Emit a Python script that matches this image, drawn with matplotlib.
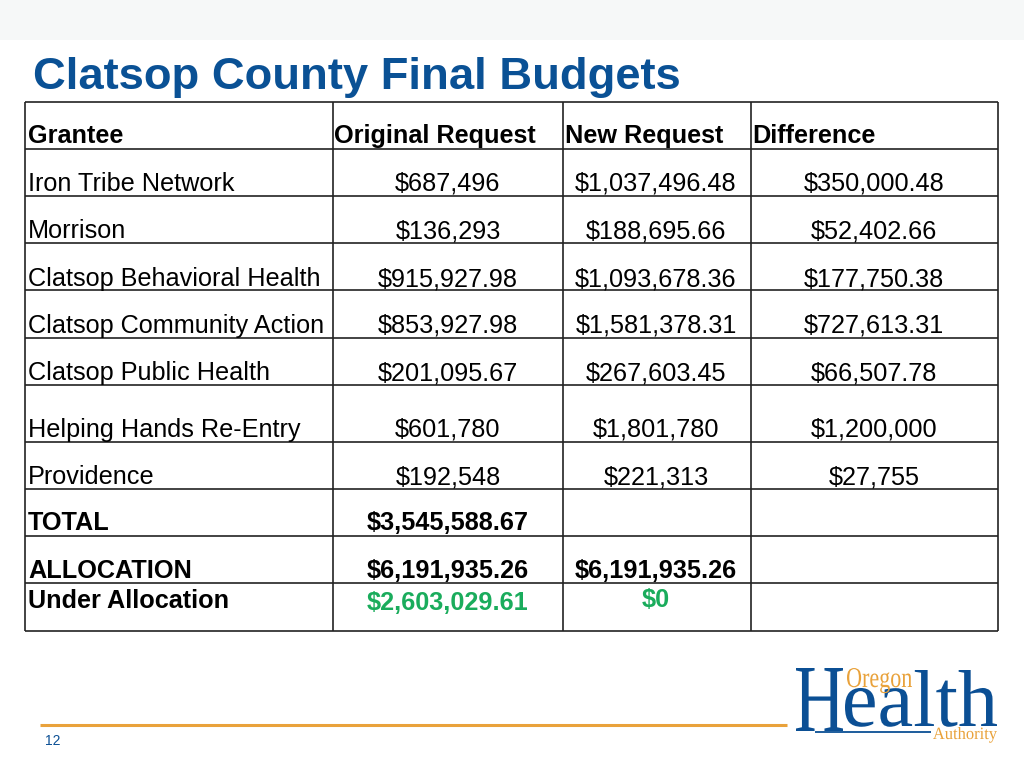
import matplotlib
matplotlib.use("Agg")
import matplotlib.pyplot as plt
from matplotlib.patches import Rectangle, PathPatch
from matplotlib.textpath import TextPath
from matplotlib.font_manager import FontProperties
from matplotlib.transforms import Affine2D

# ---- data ----
title = "Clatsop County Final Budgets"
headers = ["Grantee", "Original Request", "New Request", "Difference"]
grantees = ["Iron Tribe Network", "Morrison", "Clatsop Behavioral Health",
            "Clatsop Community Action", "Clatsop Public Health",
            "Helping Hands Re-Entry", "Providence"]
original = ["$687,496", "$136,293", "$915,927.98", "$853,927.98",
            "$201,095.67", "$601,780", "$192,548"]
new_req = ["$1,037,496.48", "$188,695.66", "$1,093,678.36", "$1,581,378.31",
           "$267,603.45", "$1,801,780", "$221,313"]
difference = ["$350,000.48", "$52,402.66", "$177,750.38", "$727,613.31",
              "$66,507.78", "$1,200,000", "$27,755"]
total_label, total_value = "TOTAL", "$3,545,588.67"
alloc_label, alloc_orig, alloc_new = "ALLOCATION", "$6,191,935.26", "$6,191,935.26"
under_label, under_orig, under_new = "Under Allocation", "$2,603,029.61", "$0"
page_number = "12"

# ---- layout ----
W, H = 1024, 768
fig = plt.figure(figsize=(W / 100, H / 100), dpi=100)
ax = fig.add_axes([0, 0, 1, 1])
ax.set_xlim(0, W)
ax.set_ylim(H, 0)
ax.axis("off")

BLUE = "#0b4f94"
TITLE_BLUE = "#0a5195"
ORANGE = "#e9a23b"
GREEN = "#1aac5c"
FONT = "Liberation Sans"

# top band
ax.add_patch(Rectangle((0, 0), W, 40, color="#f6f8f8", lw=0))

ax.text(33, 89, title, fontsize=32.7, fontweight="bold", color=TITLE_BLUE,
        family=FONT, ha="left", va="baseline")

col_x = [25, 333, 563, 751, 998]
row_y = [102, 149, 196, 243, 290, 338, 385, 442, 489, 536, 583, 631]

lw = 1.2
for x in col_x:
    ax.plot([x, x], [row_y[0], row_y[-1]], color="#222222", lw=lw, solid_capstyle="butt")
for y in row_y:
    ax.plot([col_x[0], col_x[-1]], [y, y], color="#222222", lw=lw, solid_capstyle="butt")

fs = 18.2
# header (baseline positions)
hx = [28, 334, 565, 752]
for x, h in zip(hx, headers):
    ax.text(x, 143, h, fontsize=fs, fontweight="bold", family=FONT,
            ha="left", va="baseline", color="black")

centers = [448, 656, 874]
base_y = [191, 238, 286, 333, 380, 437, 484]
for i, y in enumerate(base_y):
    ax.text(28, y, grantees[i], fontsize=fs, family=FONT, ha="left", va="baseline")
    ax.text(centers[0], y, original[i], fontsize=fs, family=FONT, ha="center", va="baseline")
    ax.text(centers[1], y, new_req[i], fontsize=fs, family=FONT, ha="center", va="baseline")
    ax.text(centers[2], y, difference[i], fontsize=fs, family=FONT, ha="center", va="baseline")

ax.text(28, 530, total_label, fontsize=fs, fontweight="bold", family=FONT, ha="left", va="baseline")
ax.text(centers[0], 530, total_value, fontsize=fs, fontweight="bold", family=FONT, ha="center", va="baseline")

ax.text(28, 578, alloc_label, fontsize=fs, fontweight="bold", family=FONT, ha="left", va="baseline")
ax.text(centers[0], 578, alloc_orig, fontsize=fs, fontweight="bold", family=FONT, ha="center", va="baseline")
ax.text(centers[1], 578, alloc_new, fontsize=fs, fontweight="bold", family=FONT, ha="center", va="baseline")

ax.text(28, 608, under_label, fontsize=fs, fontweight="bold", family=FONT, ha="left", va="baseline")
ax.text(centers[0], 610, under_orig, fontsize=fs, fontweight="bold", family=FONT,
        ha="center", va="baseline", color=GREEN)
ax.text(centers[1], 607, under_new, fontsize=fs, fontweight="bold", family=FONT,
        ha="center", va="baseline", color=GREEN)

# footer
ax.plot([40, 787], [725, 725], color=ORANGE, lw=2.2, solid_capstyle="butt")
ax.text(45, 745, page_number, fontsize=10, family=FONT, color=BLUE, ha="left", va="baseline")

# logo (text drawn as paths, scaled to fit the reference box)
serif = FontProperties(family="Liberation Serif")


def fitted_text(s, x0, x1, baseline, top, color):
    """Fit text so its ink spans x0..x1 and reaches from baseline up to 'top'."""
    tp = TextPath((0, 0), s, size=100, prop=serif)
    ext = tp.get_extents()
    sy = (baseline - top) / ext.y1
    sx = (x1 - x0) / ext.width
    tr = Affine2D().translate(-ext.x0, 0).scale(sx, -sy).translate(x0, baseline)
    ax.add_patch(PathPatch(tr.transform_path(tp), facecolor=color, edgecolor="none"))


fitted_text("H", 796, 843, 731, 668, BLUE)
fitted_text("ealth", 845, 997, 726, 670, BLUE)
ax.plot([815, 931], [731.5, 731.5], color=BLUE, lw=1.3, solid_capstyle="butt")
fitted_text("Oregon", 847, 912, 687, 668, ORANGE)
fitted_text("Authority", 933, 997, 739, 727, ORANGE)

fig.savefig("out.png", dpi=100)
